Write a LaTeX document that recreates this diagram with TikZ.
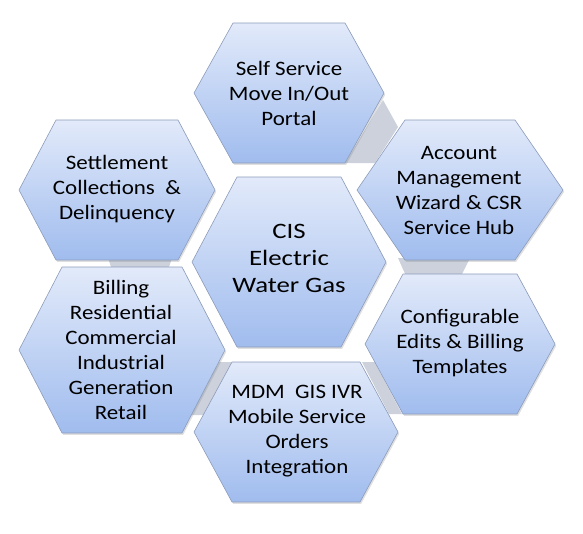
\documentclass[tikz,border=0pt]{standalone}
\usepackage{fontspec}
\setmainfont{Carlito}
\newfontfamily\outerfont[FakeStretch=1.12]{Carlito}
\newfontfamily\cisfont[FakeStretch=1.22]{Carlito}
\usetikzlibrary{shadows}
\definecolor{hextop}{RGB}{226,234,250}
\definecolor{hexbot}{RGB}{160,188,238}
\definecolor{hexline}{RGB}{140,156,186}
\definecolor{bandcol}{RGB}{204,209,220}
\tikzset{
  hexshape/.style={draw=hexline, line width=0.6pt, top color=hextop, bottom color=hexbot,
    drop shadow={opacity=0.25, shadow xshift=1.2pt, shadow yshift=-1.8pt}},
  band/.style={fill=bandcol, draw=none},
  hextext/.style={align=center, text=black, font=\outerfont\fontsize{20.5}{25}\selectfont, inner sep=0pt},
  centertext/.style={align=center, text=black, font=\cisfont\fontsize{22}{27}\selectfont, inner sep=0pt},
}
% \hexagon{cx}{cy}{hw}{hh}{th}
\newcommand{\hexagon}[5]{%
  \path[hexshape] ({#1-#3},{#2}) -- ({#1-#5},{#2-#4}) -- ({#1+#5},{#2-#4}) --
    ({#1+#3},{#2}) -- ({#1+#5},{#2+#4}) -- ({#1-#5},{#2+#4}) -- cycle;}
\begin{document}
\begin{tikzpicture}[x=1pt,y=-1pt]
\useasboundingbox (0,0) rectangle (583,533);
% connector bands
\path[band] (383,100) -- (398,127) -- (375,163) -- (345,163) -- cycle;
\path[band] (398,258) -- (470,258) -- (461,276) -- (406,276) -- cycle;
\path[band] (362,362) -- (374.5,362) -- (402,414) -- (389,414) -- cycle;
\path[band] (219,362) -- (233,362) -- (203.5,415) -- (191,415) -- cycle;
\path[band] (108,258) -- (172,258) -- (168,270) -- (112,270) -- cycle;
% hexagons
\hexagon{289}{93}{95}{70}{56}
\hexagon{460}{190}{103}{70}{55}
\hexagon{460}{344}{95}{70}{57}
\hexagon{296}{432}{102}{70}{64}
\hexagon{122}{350}{103}{83}{60}
\hexagon{117}{190}{98}{70}{61}
\hexagon{289}{262}{97}{85}{52}
% texts
\node[hextext] (self) at (289,93) {Self Service\\Move In/Out\\Portal\hspace{22pt}};
\node[hextext] (acct) at (459,190) {Account\\Management\\Wizard \& CSR\\Service Hub};
\node[hextext] (conf) at (460,343) {Configurable\\Edits \& Billing\\Templates};
\node[hextext] (mdm) at (297,431) {MDM\ \ GIS IVR\\Mobile Service\\Orders\\Integration};
\node[hextext] (bill) at (121,350) {Billing\\Residential\\Commercial\\Industrial\\Generation\\Retail};
\node[hextext] (settle) at (117,189) {Settlement\\Collections \ \&\\Delinquency};
\node[centertext] (cis) at (289,258) {CIS\\Electric\\Water Gas};
\end{tikzpicture}
\end{document}
